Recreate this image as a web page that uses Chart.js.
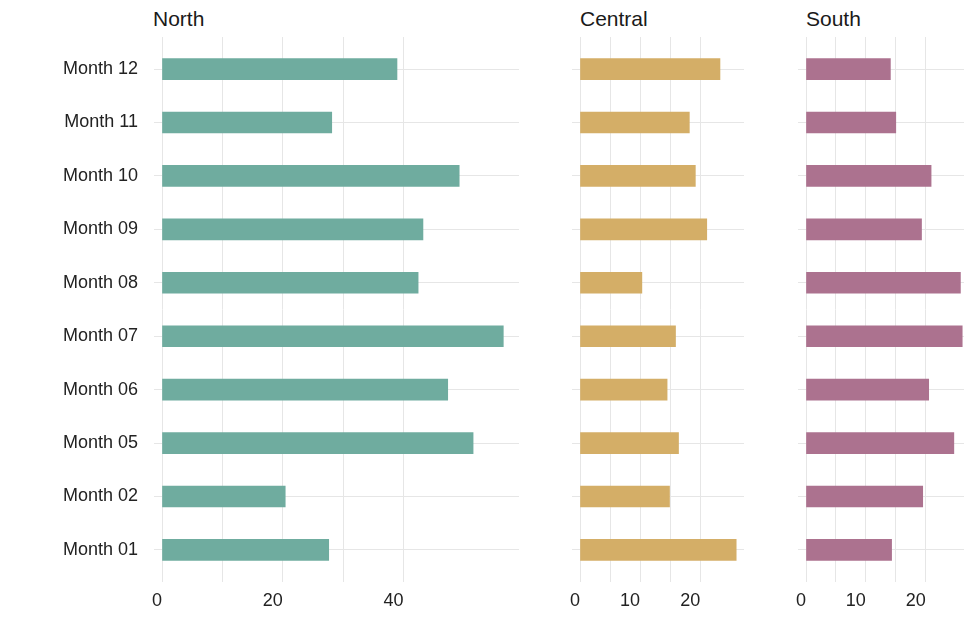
<!DOCTYPE html>
<html>
<head>
<meta charset="utf-8">
<script src="https://cdn.jsdelivr.net/npm/chart.js@4"></script>
<style>
  html, body { margin: 0; padding: 0; background: #fff; overflow: hidden; }
  body { width: 964px; height: 623px; position: relative; font-family: "Liberation Sans", Arial, sans-serif; }
  .panel { position: absolute; top: 0; height: 623px; }
  .title { position: absolute; top: 8px; font-size: 21px; line-height: 21px; color: #1a1a1a; }
</style>
</head>
<body>
<div class="title" style="left:153px">North</div>
<div class="title" style="left:580px">Central</div>
<div class="title" style="left:806px">South</div>
<div class="panel" style="left:0;width:519px"><canvas id="chart-north"></canvas></div>
<div class="panel" style="left:560px;width:184px"><canvas id="chart-central"></canvas></div>
<div class="panel" style="left:786px;width:184px"><canvas id="chart-south"></canvas></div>
<script>
// Month categories, bottom to top
const MONTHS = ["Month 01", "Month 02", "Month 05", "Month 06", "Month 07", "Month 08", "Month 09", "Month 10", "Month 11", "Month 12"];
const NORTH = [27.6, 20.4, 51.5, 47.3, 56.5, 42.4, 43.2, 49.2, 28.1, 38.9];
const CENTRAL = [26.0, 14.9, 16.4, 14.5, 15.9, 10.3, 21.1, 19.2, 18.2, 23.3];
const SOUTH = [14.3, 19.5, 24.7, 20.5, 26.1, 25.8, 19.3, 20.9, 15.0, 14.1];

const GRID = "#e6e6e6";
const TEXT = "#222222";

function renderPanel(canvasId, values, color, o) {
  const canvas = document.getElementById(canvasId);
  if (!canvas || typeof Chart === "undefined") return;
  canvas._chart = new Chart(canvas, {
    type: "bar",
    data: {
      datasets: [{
        data: values.map((v, i) => ({ x: v, y: i })),
        backgroundColor: color,
        borderWidth: 0,
        barThickness: 21,
      }],
    },
    options: {
      indexAxis: "y",
      responsive: true,
      maintainAspectRatio: false,
      animation: false,
      layout: { padding: { top: 37, left: 0, right: 0, bottom: 0 } },
      plugins: { legend: { display: false }, tooltip: { enabled: false } },
      scales: {
        x: {
          type: "linear",
          min: 0,
          max: o.xMax,
          border: { display: false },
          grid: { color: GRID, lineWidth: 1, drawTicks: false },
          ticks: {
            stepSize: o.step,
            align: "end",
            padding: 8,
            autoSkip: false,
            maxRotation: 0,
            color: TEXT,
            font: { family: "'Liberation Sans', Arial, sans-serif", size: 18 },
            callback: (v) => (v % o.labelEvery === 0 ? v : ""),
          },
          afterBuildTicks: (s) => { s.ticks = s.ticks.filter((t) => t.value % o.step === 0); },
          afterFit: (s) => { s.height = 41; s.paddingLeft = 0; s.paddingRight = 0; },
        },
        y: {
          type: "linear",
          min: -0.6,
          max: 9.6,
          offset: false,
          border: { display: false },
          grid: { color: GRID, lineWidth: 1, tickLength: 8, offset: false },
          ticks: {
            stepSize: 1,
            padding: 16,
            autoSkip: false,
            color: TEXT,
            font: { family: "'Liberation Sans', Arial, sans-serif", size: 18 },
            callback: (v) => (o.showLabels ? MONTHS[v] : ""),
          },
          afterBuildTicks: (s) => { s.ticks = s.ticks.filter((t) => Number.isInteger(t.value)); },
          afterFit: (s) => { s.width = o.axisWidth; },
        },
      },
    },
  });
}

renderPanel("chart-north", NORTH, "#6fac9f", { xMax: 59.1, step: 10, labelEvery: 20, showLabels: true, axisWidth: 162 });
renderPanel("chart-central", CENTRAL, "#d4ae67", { xMax: 27.3, step: 5, labelEvery: 10, showLabels: false, axisWidth: 20 });
renderPanel("chart-south", SOUTH, "#ac728f", { xMax: 27.4, step: 5, labelEvery: 10, showLabels: false, axisWidth: 20 });
</script>
</body>
</html>
